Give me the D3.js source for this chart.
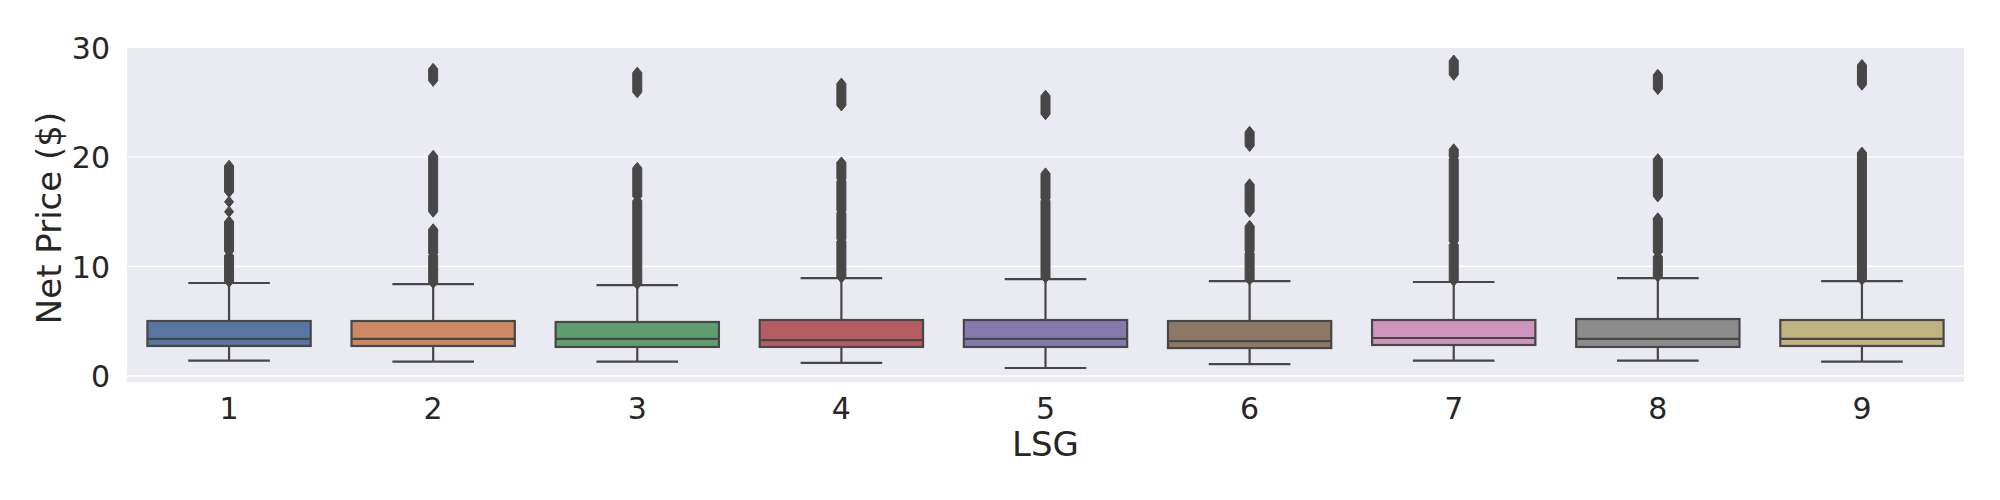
<!DOCTYPE html>
<html>
<head>
<meta charset="utf-8">
<script src="https://cdn.jsdelivr.net/npm/d3@7"></script>
<style>
  body { margin: 0; background: #ffffff; }
  text { font-family: "DejaVu Sans", sans-serif; fill: #262626; }
</style>
</head>
<body>
<svg id="drawing_region"></svg>
<script>
// LSG groups and the box statistics
const categories = ["1", "2", "3", "4", "5", "6", "7", "8", "9"];
const whiskerLow = [1.40, 1.31, 1.31, 1.19, 0.73, 1.09, 1.40, 1.40, 1.31];
const q1 = [2.74, 2.74, 2.65, 2.65, 2.65, 2.55, 2.83, 2.65, 2.74];
const median = [3.38, 3.38, 3.38, 3.28, 3.38, 3.19, 3.47, 3.38, 3.38];
const q3 = [5.02, 5.02, 4.93, 5.11, 5.11, 5.02, 5.11, 5.20, 5.11];
const whiskerHigh = [8.49, 8.39, 8.30, 8.94, 8.85, 8.67, 8.58, 8.94, 8.67];

// outliers are so dense they form runs: [lowest, highest] of each visible run
const flierRuns = [
  [[8.6, 11.0], [11.4, 14.1], [15.0, 15.0], [15.9, 15.9], [16.8, 19.2]],
  [[8.5, 11.0], [11.2, 13.4], [15.0, 20.1], [26.95, 28.05]],
  [[8.4, 16.0], [16.4, 19.0], [25.9, 27.7]],
  [[9.0, 12.3], [12.5, 14.9], [15.1, 17.8], [18.0, 19.5], [24.7, 26.7]],
  [[9.0, 16.0], [16.2, 18.5], [23.9, 25.6]],
  [[8.8, 11.2], [11.4, 13.7], [15.0, 17.5], [21.0, 22.3]],
  [[8.7, 12.0], [12.3, 19.8], [20.0, 20.7], [27.5, 28.8]],
  [[9.1, 10.9], [11.3, 14.4], [16.4, 19.8], [26.2, 27.5]],
  [[8.8, 20.4], [26.6, 28.4]],
];

const colors = ["#5875a4", "#cc8963", "#5f9e6e", "#b55d60", "#857aab",
                "#8d7866", "#d095bf", "#8c8c8c", "#c1b37f"];
const yTicks = [0, 10, 20, 30];
const yDomain = [-0.55, 29.95];

class BoxPlot {
  constructor(config, data) {
    this.config = config;
    this.data = data;
    this.init();
  }

  init() {
    let self = this;

    self.svg = d3
      .select(self.config.parent)
      .attr("width", self.config.width)
      .attr("height", self.config.height);

    self.inner_width =
      self.config.width - self.config.margin.left - self.config.margin.right;
    self.inner_height =
      self.config.height - self.config.margin.top - self.config.margin.bottom;

    self.chart = self.svg
      .append("g")
      .attr("transform", `translate(${self.config.margin.left}, ${self.config.margin.top})`);

    self.xscale = d3.scaleBand()
      .domain(categories)
      .range([0, self.inner_width])
      .paddingInner(0)
      .paddingOuter(0);
    self.yscale = d3.scaleLinear().domain(yDomain).range([self.inner_height, 0]);
  }

  render() {
    let self = this;
    const line = "#474747";
    const lw = 2.2;

    self.chart.append("rect")
      .attr("width", self.inner_width)
      .attr("height", self.inner_height)
      .attr("fill", "#eaeaf2");

    // white grid lines
    self.chart.append("g")
      .selectAll("line")
      .data(yTicks.filter((t) => t >= yDomain[0] && t <= yDomain[1]))
      .join("line")
      .attr("x1", 0)
      .attr("x2", self.inner_width)
      .attr("y1", (d) => self.yscale(d))
      .attr("y2", (d) => self.yscale(d))
      .attr("stroke", "#ffffff")
      .attr("stroke-width", 1.3);

    const bw = self.xscale.bandwidth();
    const boxW = bw * 0.8;

    const groups = self.chart.selectAll(".box")
      .data(self.data)
      .join("g")
      .attr("class", "box")
      .attr("transform", (d) => `translate(${self.xscale(d.cat) + bw / 2}, 0)`);

    // whiskers
    groups.append("line")
      .attr("x1", 0).attr("x2", 0)
      .attr("y1", (d) => self.yscale(d.q3))
      .attr("y2", (d) => self.yscale(d.whiHigh))
      .attr("stroke", line).attr("stroke-width", lw);
    groups.append("line")
      .attr("x1", 0).attr("x2", 0)
      .attr("y1", (d) => self.yscale(d.q1))
      .attr("y2", (d) => self.yscale(d.whiLow))
      .attr("stroke", line).attr("stroke-width", lw);

    // caps
    ["whiHigh", "whiLow"].forEach((k) => {
      groups.append("line")
        .attr("x1", -boxW / 4).attr("x2", boxW / 4)
        .attr("y1", (d) => self.yscale(d[k]))
        .attr("y2", (d) => self.yscale(d[k]))
        .attr("stroke", line).attr("stroke-width", lw);
    });

    // boxes
    groups.append("rect")
      .attr("x", -boxW / 2)
      .attr("width", boxW)
      .attr("y", (d) => self.yscale(d.q3))
      .attr("height", (d) => self.yscale(d.q1) - self.yscale(d.q3))
      .attr("fill", (d) => d.color)
      .attr("stroke", line).attr("stroke-width", lw);

    groups.append("line")
      .attr("x1", -boxW / 2).attr("x2", boxW / 2)
      .attr("y1", (d) => self.yscale(d.median))
      .attr("y2", (d) => self.yscale(d.median))
      .attr("stroke", line).attr("stroke-width", lw);

    // flier runs, drawn as stacks of thin diamonds
    const fw = 9, tip = 5.5;
    groups.selectAll(".flier")
      .data((d) => d.fliers)
      .join("path")
      .attr("class", "flier")
      .attr("d", (r) => {
        const top = self.yscale(r[1]);
        const bot = self.yscale(r[0]);
        return `M0,${top - tip} L${fw / 2},${top} L${fw / 2},${bot} L0,${bot + tip}` +
          ` L${-fw / 2},${bot} L${-fw / 2},${top} Z`;
      })
      .attr("fill", line)
      .attr("stroke", line)
      .attr("stroke-width", 1)
      .attr("stroke-linejoin", "round");

    // axes
    const xaxis = d3.axisBottom(self.xscale).tickSize(0);
    self.chart.append("g")
      .attr("transform", `translate(0, ${self.inner_height})`)
      .call(xaxis)
      .call((g) => g.select(".domain").remove())
      .selectAll("text")
      .attr("y", 37.3)
      .attr("dy", 0)
      .attr("font-size", "30px")
      .attr("font-family", "DejaVu Sans")
      .attr("fill", "#262626");

    const yaxis = d3.axisLeft(self.yscale).tickValues(yTicks).tickSize(0);
    self.chart.append("g")
      .call(yaxis)
      .call((g) => g.select(".domain").remove())
      .selectAll("text")
      .attr("x", -17)
      .attr("dy", "0.36em")
      .attr("font-size", "30px")
      .attr("font-family", "DejaVu Sans")
      .attr("fill", "#262626");

    self.chart.append("text")
      .attr("x", self.inner_width / 2)
      .attr("y", 408)
      .attr("text-anchor", "middle")
      .attr("font-size", "34px")
      .text("LSG");

    self.chart.append("text")
      .attr("transform", "rotate(-90)")
      .attr("x", -(218 - self.config.margin.top))
      .attr("y", -66.3)
      .attr("text-anchor", "middle")
      .attr("font-size", "34px")
      .text("Net Price ($)");
  }
}

const data = categories.map((c, i) => ({
  cat: c,
  whiLow: whiskerLow[i],
  q1: q1[i],
  median: median[i],
  q3: q3[i],
  whiHigh: whiskerHigh[i],
  fliers: flierRuns[i],
  color: colors[i],
}));

const config = {
  parent: "#drawing_region",
  width: 2000,
  height: 500,
  margin: { top: 48, right: 36, bottom: 118, left: 127 },
};

const boxPlot = new BoxPlot(config, data);
boxPlot.render();
</script>
</body>
</html>
